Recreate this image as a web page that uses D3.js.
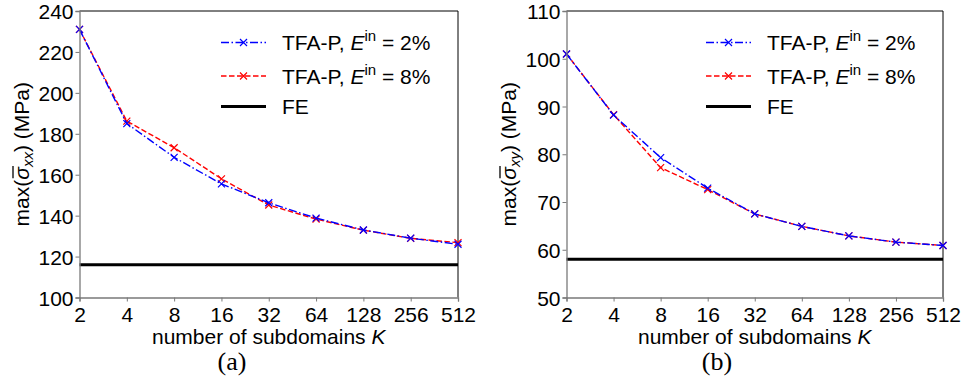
<!DOCTYPE html>
<html>
<head>
<meta charset="utf-8">
<script src="https://cdn.jsdelivr.net/npm/d3@7"></script>
<style>
  html, body { margin: 0; padding: 0; background: #fff; }
  svg { display: block; }
  text { font-family: "Liberation Sans", Arial, sans-serif; fill: #000; }
</style>
</head>
<body>
<svg id="fig" width="963" height="379"></svg>
<script>
// Subdomain counts K
const subdomains = [2, 4, 8, 16, 32, 64, 128, 256, 512];

// (a) max of averaged sigma_xx (MPa)
const sxxEin2 = [231, 185, 168.5, 155.5, 146.3, 138.8, 133, 129, 126];
const sxxEin8 = [231, 186.2, 173.2, 158, 145.2, 138.3, 132.9, 128.9, 126.8];
const sxxFE = 116;
const sxxTicks = [100, 120, 140, 160, 180, 200, 220, 240];

// (b) max of averaged sigma_xy (MPa)
const sxyEin2 = [101, 88.2, 79.3, 72.9, 67.5, 64.9, 62.9, 61.6, 60.9];
const sxyEin8 = [101, 88.3, 77.2, 72.6, 67.5, 64.9, 62.9, 61.6, 60.9];
const sxyFE = 58;
const sxyTicks = [50, 60, 70, 80, 90, 100, 110];

const legendLabels = ["2%", "8%"];

const svg = d3.select("#fig");

function panel(cfg) {
  const g = svg.append("g");
  const x = d3.scaleLog().base(2).domain([2, 512]).range([cfg.left, cfg.right]);
  const y = d3.scaleLinear().domain(cfg.yDomain).range([cfg.bottom, cfg.top]);

  // top and right frame (black)
  g.append("line").attr("x1", cfg.left).attr("x2", cfg.right)
    .attr("y1", cfg.top).attr("y2", cfg.top).attr("stroke", "#000").attr("stroke-width", 1);
  g.append("line").attr("x1", cfg.right).attr("x2", cfg.right)
    .attr("y1", cfg.top).attr("y2", cfg.bottom).attr("stroke", "#000").attr("stroke-width", 1);

  // FE reference
  g.append("line").attr("x1", cfg.left).attr("x2", cfg.right)
    .attr("y1", y(cfg.fe)).attr("y2", y(cfg.fe))
    .attr("stroke", "#000").attr("stroke-width", 3);

  const line = d3.line().x((d, i) => x(subdomains[i])).y(d => y(d));

  const series = [
    { data: cfg.s8, color: "#ff0000", dash: "5.5,2.5" },
    { data: cfg.s2, color: "#0000ff", dash: "8,2.5,1.5,2.5" }
  ];
  series.forEach(s => {
    g.append("path").datum(s.data).attr("d", line)
      .attr("fill", "none").attr("stroke", s.color).attr("stroke-width", 1.4)
      .attr("stroke-dasharray", s.dash);
    g.selectAll(null).data(s.data).enter().append("path")
      .attr("transform", (d, i) => `translate(${x(subdomains[i])},${y(d)})`)
      .attr("d", "M-3.5,-3.5L3.5,3.5M-3.5,3.5L3.5,-3.5")
      .attr("stroke", s.color).attr("stroke-width", 1.2).attr("fill", "none");
  });

  // axes (gray spines and ticks)
  const xa = g.append("g").attr("transform", `translate(0,${cfg.bottom})`)
    .call(d3.axisBottom(x).tickValues(subdomains).tickFormat(d3.format("d")).tickSize(4).tickPadding(3));
  const ya = g.append("g").attr("transform", `translate(${cfg.left},0)`)
    .call(d3.axisLeft(y).tickValues(cfg.yTicks).tickSize(4).tickPadding(2));
  [xa, ya].forEach(a => {
    a.select(".domain").attr("stroke", "#7a7a7a").attr("stroke-width", 1.3);
    a.selectAll(".tick line").attr("stroke", "#7a7a7a").attr("stroke-width", 1);
    a.selectAll(".tick text").style("font-family", '"Liberation Sans", Arial, sans-serif')
      .style("font-size", "21px").attr("fill", "#000");
  });
  xa.selectAll(".tick text").attr("dy", "0.85em");
  ya.selectAll(".tick text").attr("dy", "0.36em");

  // legend
  const lx0 = cfg.right - 237, lx1 = lx0 + 45, tx = lx0 + 61;
  const ly = [cfg.top + 31.5, cfg.top + 65, cfg.top + 95.5];
  const legSeries = [
    { color: "#0000ff", dash: "8,2.5,1.5,2.5", lab: legendLabels[0] },
    { color: "#ff0000", dash: "5.5,2.5", lab: legendLabels[1] }
  ];
  legSeries.forEach((s, i) => {
    g.append("line").attr("x1", lx0).attr("x2", lx1).attr("y1", ly[i]).attr("y2", ly[i])
      .attr("stroke", s.color).attr("stroke-width", 1.4).attr("stroke-dasharray", s.dash);
    g.append("path").attr("transform", `translate(${(lx0 + lx1) / 2},${ly[i]})`)
      .attr("d", "M-3.5,-3.5L3.5,3.5M-3.5,3.5L3.5,-3.5")
      .attr("stroke", s.color).attr("stroke-width", 1.2);
    const t = g.append("text").attr("x", tx).attr("y", ly[i] + 7.5).style("font-size", "21px");
    t.append("tspan").text("TFA-P, ");
    t.append("tspan").style("font-style", "italic").text("E");
    t.append("tspan").attr("dy", -9).style("font-size", "15px").text("in");
    t.append("tspan").attr("dy", 9).text(" = " + s.lab);
  });
  g.append("line").attr("x1", lx0).attr("x2", lx1).attr("y1", ly[2]).attr("y2", ly[2])
    .attr("stroke", "#000").attr("stroke-width", 3);
  g.append("text").attr("x", tx).attr("y", ly[2] + 7.5).style("font-size", "21px").text("FE");

  // y label, with a bar drawn over the sigma glyph
  const cy = (cfg.top + cfg.bottom) / 2;
  const lg = g.append("g").attr("transform", `translate(${cfg.left - 51},${cy}) rotate(-90)`);
  const yl = lg.append("text").attr("text-anchor", "middle").style("font-size", "21px");
  yl.append("tspan").text("max(");
  yl.append("tspan").style("font-style", "italic").text("σ");
  yl.append("tspan").attr("dy", 4).style("font-style", "italic").style("font-size", "15px").text(cfg.sub);
  yl.append("tspan").attr("dy", -4).text(") (MPa)");
  const node = yl.node();
  const s0 = node.getStartPositionOfChar(4).x, s1 = node.getEndPositionOfChar(4).x;
  lg.append("line").attr("x1", s0 + 1.5).attr("x2", s1 + 1).attr("y1", -15.5).attr("y2", -15.5)
    .attr("stroke", "#000").attr("stroke-width", 1.3);

  // x label
  const xl = g.append("text").attr("x", (cfg.left + cfg.right) / 2).attr("y", cfg.bottom + 46)
    .attr("text-anchor", "middle").style("font-size", "21px");
  xl.append("tspan").text("number of subdomains ");
  xl.append("tspan").style("font-style", "italic").text("K");

  // subfigure caption
  g.append("text").attr("x", cfg.capX).attr("y", 370).attr("text-anchor", "middle")
    .style("font-family", '"Liberation Serif", "DejaVu Serif", serif').style("font-size", "26px")
    .text(cfg.caption);
}

panel({ left: 79.5, right: 458, top: 11, bottom: 297.5, yDomain: [100, 240], yTicks: sxxTicks,
  s2: sxxEin2, s8: sxxEin8, fe: sxxFE, sub: "xx", caption: "(a)", capX: 232 });
panel({ left: 566.5, right: 943, top: 11, bottom: 297.5, yDomain: [50, 110], yTicks: sxyTicks,
  s2: sxyEin2, s8: sxyEin8, fe: sxyFE, sub: "xy", caption: "(b)", capX: 717 });
</script>
</body>
</html>
